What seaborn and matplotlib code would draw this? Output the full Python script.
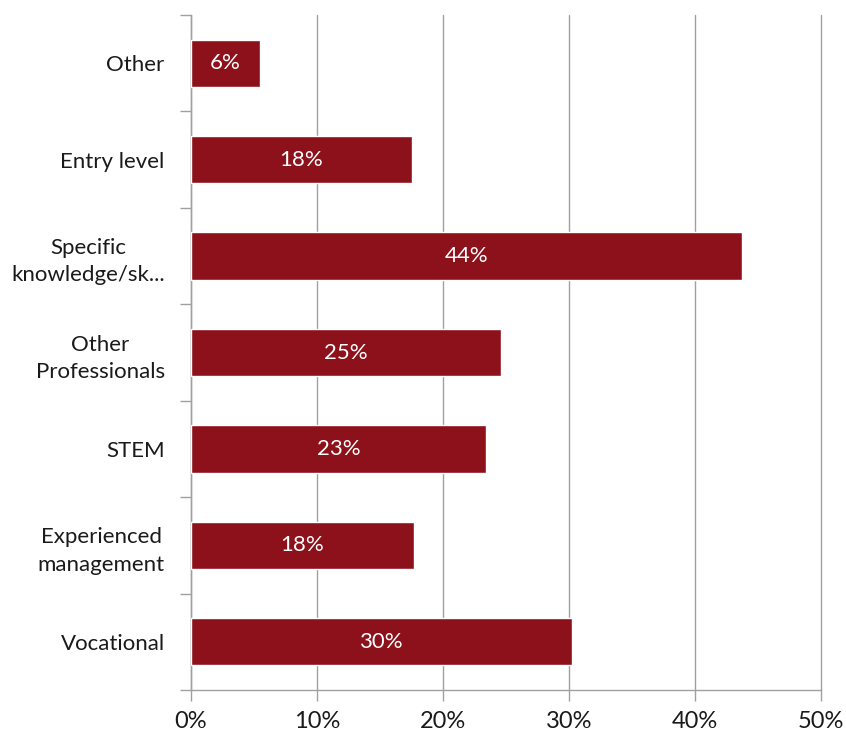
import matplotlib
matplotlib.use("Agg")
import matplotlib.pyplot as plt
import seaborn as sns
import pandas as pd
from matplotlib.ticker import FixedLocator, PercentFormatter

categories = ["Other", "Entry level", "Specific\nknowledge/sk...", "Other\nProfessionals",
              "STEM", "Experienced\nmanagement", "Vocational"]
values = [5.5, 17.5, 43.7, 24.6, 23.4, 17.7, 30.2]
labels = ["6%", "18%", "44%", "25%", "23%", "18%", "30%"]
x_ticks = [0, 10, 20, 30, 40, 50]

sns.set_style("white")
plt.rcParams['font.family'] = ['Lato', 'DejaVu Sans']

df = pd.DataFrame({"category": categories, "value": values})

fig = plt.figure(figsize=(8.46, 7.38), dpi=100)
ax = fig.add_axes([0.2258, 0.065, 0.7446, 0.9146])

sns.barplot(data=df, y="category", x="value", orient="h", color="#8C111B",
            width=0.49, saturation=1, ax=ax, zorder=3)

ax.set_xlim(0, 50)
ax.set_ylim(6.5, -0.5)
ax.set_xticks(x_ticks)
ax.xaxis.set_major_formatter(PercentFormatter(decimals=0))
ax.grid(axis="x", color="#a0a0a0", linewidth=1, zorder=0)
ax.set_axisbelow(True)
for gl in ax.get_xgridlines():
    gl.set_clip_on(False)

for s in ["top", "right"]:
    ax.spines[s].set_visible(False)
for s in ["left", "bottom"]:
    ax.spines[s].set_color("#a0a0a0")
    ax.spines[s].set_linewidth(1)

ax.yaxis.set_minor_locator(FixedLocator([i - 0.5 for i in range(8)]))
ax.tick_params(axis="y", which="major", length=0, pad=19, labelsize=16, labelcolor="#1a1a1a")
ax.tick_params(axis="y", which="minor", length=8, color="#a0a0a0", width=1, left=True)
ax.tick_params(axis="x", which="major", length=8, color="#a0a0a0", width=1, bottom=True,
               labelsize=17, labelcolor="#1a1a1a", pad=7)
for t in ax.get_yticklabels():
    t.set_multialignment("center")
    t.set_linespacing(1.45)

ax.set_xlabel("")
ax.set_ylabel("")

for i, (v, lab) in enumerate(zip(values, labels)):
    ax.text(v / 2, i, lab, ha="center", va="center", color="white", fontsize=16, zorder=4)

fig.savefig("out.png", dpi=100)
